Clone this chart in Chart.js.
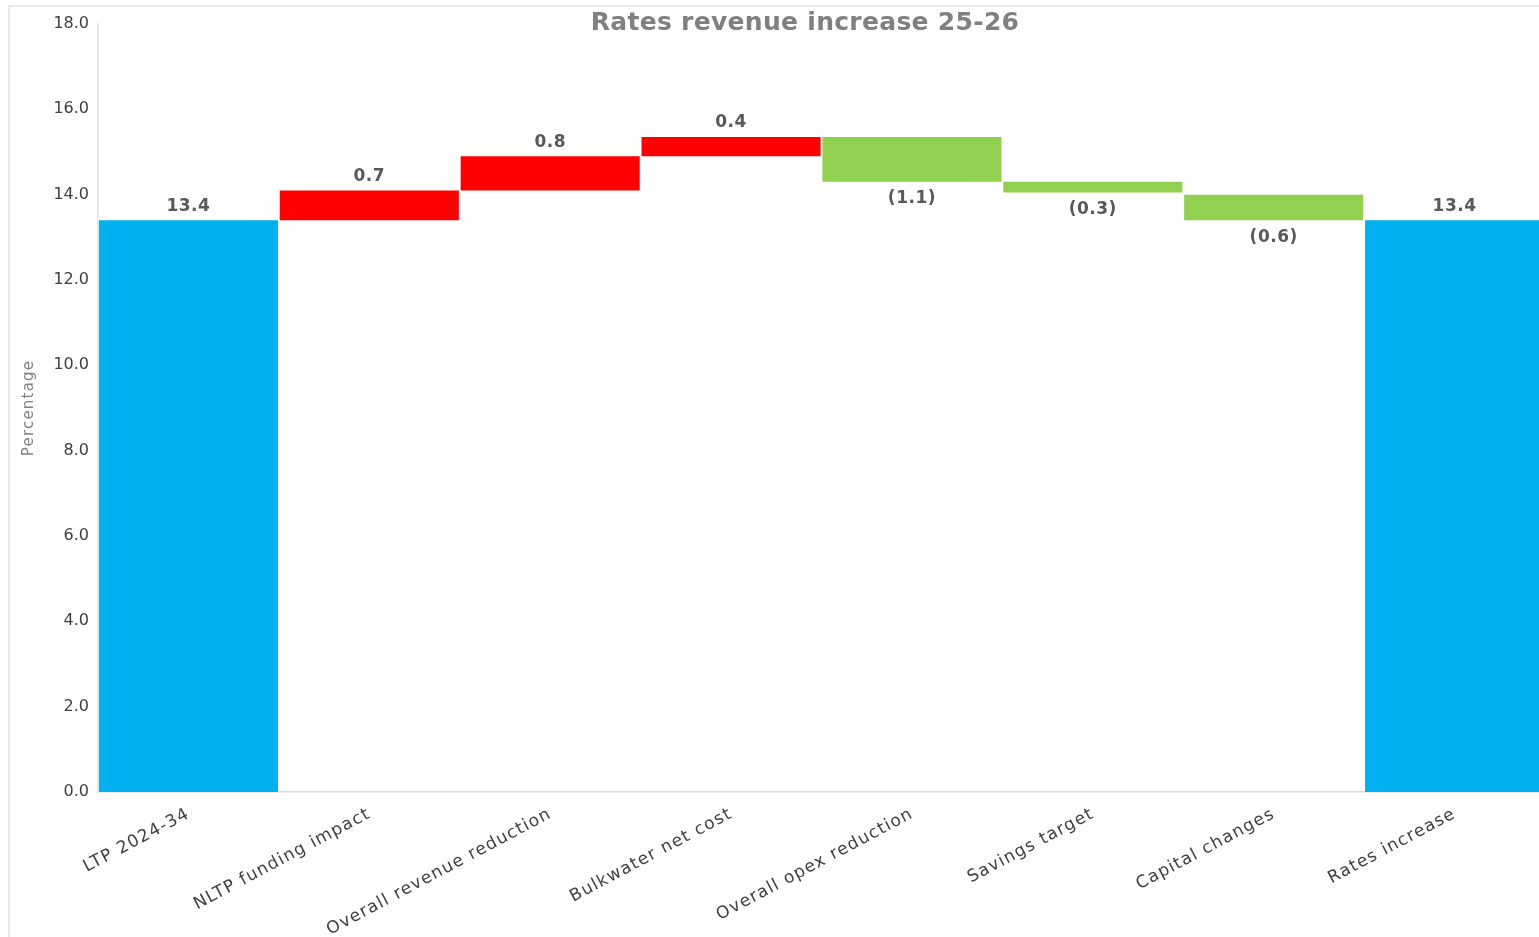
<!DOCTYPE html>
<html>
<head>
<meta charset="utf-8">
<script src="https://cdn.jsdelivr.net/npm/chart.js@4/dist/chart.umd.min.js"></script>
<style>
  html, body { margin: 0; padding: 0; background: #fff; overflow: hidden; }
  #frame { position: absolute; left: 8px; top: 5px; width: 1600px; height: 1000px;
           border-left: 2px solid #e9e9e9; border-top: 2px solid #e9e9e9; pointer-events: none; }
  #wrap { position: absolute; left: 0; top: 0; width: 1560px; height: 937px; }
</style>
</head>
<body>
<div id="wrap"><canvas id="chart" width="1560" height="937"></canvas></div>
<div id="frame"></div>
<script>
// waterfall pieces
const categories = ['LTP 2024-34', 'NLTP funding impact', 'Overall revenue reduction', 'Bulkwater net cost',
                    'Overall opex reduction', 'Savings target', 'Capital changes', 'Rates increase'];
const barStart = [0, 13.4, 14.1, 14.9, 15.35, 14.3, 14.0, 0];
const barEnd = [13.4, 14.1, 14.9, 15.35, 14.3, 14.05, 13.4, 13.4];
const valueLabels = ['13.4', '0.7', '0.8', '0.4', '(1.1)', '(0.3)', '(0.6)', '13.4'];
const barKinds = ['total', 'increase', 'increase', 'increase', 'decrease', 'decrease', 'decrease', 'total'];
const yTicks = [0, 2, 4, 6, 8, 10, 12, 14, 16, 18];

const kindColors = { total: '#00B0F0', increase: '#FF0000', decrease: '#92D050' };
const FONT = '"DejaVu Sans", "Open Sans", sans-serif';

// wrap a scale draw step so its text gets some letter spacing (original font is wide)
function spaced(scale, fn, amount) {
  if (scale['_sp_' + fn]) return;
  const orig = scale[fn];
  scale[fn] = function (...args) {
    const ctx = this.ctx;
    ctx.save();
    ctx.letterSpacing = amount;
    orig.apply(this, args);
    ctx.restore();
  };
  scale['_sp_' + fn] = true;
}

const spacing = {
  id: 'spacing',
  beforeDraw(chart) {
    spaced(chart.scales.x, 'drawLabels', '1.2px');
    spaced(chart.scales.y, 'drawTitle', '1.2px');
  }
};

const barLabels = {
  id: 'barLabels',
  afterDatasetsDraw(chart) {
    const ctx = chart.ctx;
    const meta = chart.getDatasetMeta(0);
    ctx.save();
    ctx.letterSpacing = '0.5px';
    ctx.font = 'bold 17px ' + FONT;
    ctx.fillStyle = '#595959';
    ctx.textAlign = 'center';
    ctx.textBaseline = 'middle';
    meta.data.forEach((el, i) => {
      const top = Math.min(el.y, el.base);
      const bottom = Math.max(el.y, el.base);
      if (barKinds[i] === 'decrease') {
        ctx.fillText(valueLabels[i], el.x, bottom + 17);
      } else {
        ctx.fillText(valueLabels[i], el.x, top - 14);
      }
    });
    ctx.restore();
  }
};

const chartTitle = {
  id: 'chartTitle',
  afterDraw(chart) {
    const ctx = chart.ctx;
    ctx.save();
    ctx.letterSpacing = '0.3px';
    ctx.font = 'bold 25px ' + FONT;
    ctx.fillStyle = '#808080';
    ctx.textAlign = 'center';
    ctx.textBaseline = 'middle';
    ctx.fillText('Rates revenue increase 25-26', 805, 23);
    ctx.restore();
  }
};

new Chart(document.getElementById('chart'), {
  type: 'bar',
  data: {
    labels: categories,
    datasets: [{
      data: categories.map((c, i) => [barStart[i], barEnd[i]]),
      backgroundColor: barKinds.map(k => kindColors[k]),
      borderWidth: 0,
      barPercentage: 0.99,
      categoryPercentage: 1.0
    }]
  },
  options: {
    responsive: false,
    animation: false,
    layout: { padding: { top: 24, right: 15, left: 0, bottom: 0 } },
    plugins: { legend: { display: false }, title: { display: false }, tooltip: { enabled: false } },
    scales: {
      x: {
        grid: { display: false },
        border: { display: true, color: '#d9d9d9', width: 1.5 },
        ticks: {
          autoSkip: false, maxRotation: 28, minRotation: 28, padding: 4,
          color: '#404040', font: { family: FONT, size: 17 }
        },
        afterFit(scale) { scale.height = 145; }
      },
      y: {
        min: 0, max: 18,
        afterBuildTicks(scale) { scale.ticks = yTicks.map(v => ({ value: v })); },
        grid: { display: false },
        border: { display: true, color: '#e3e3e3', width: 1.5 },
        ticks: {
          padding: 1, color: '#404040', font: { family: FONT, size: 16 },
          callback: v => Number(v).toFixed(1)
        },
        title: {
          display: true, text: 'Percentage', color: '#808080',
          font: { family: FONT, size: 15 }, padding: { top: 20, bottom: 0 }
        },
        afterFit(scale) { scale.width = 98; }
      }
    }
  },
  plugins: [spacing, barLabels, chartTitle]
});
</script>
</body>
</html>
